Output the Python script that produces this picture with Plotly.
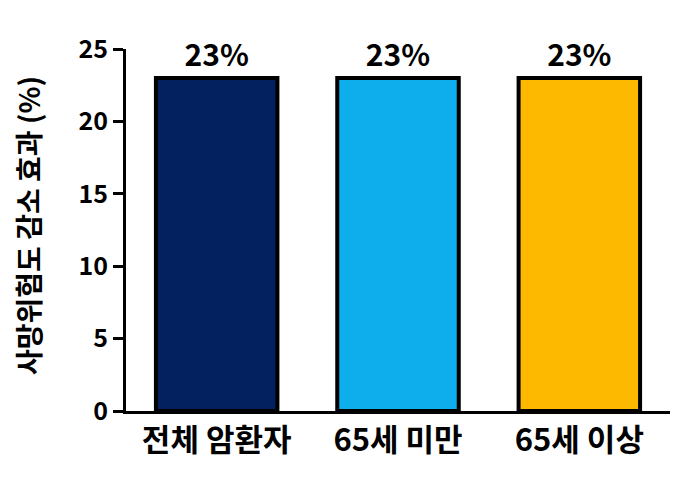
import plotly.graph_objects as go

categories = ["전체 암환자", "65세 미만", "65세 이상"]
values = [23, 23, 23]
labels = ["23%", "23%", "23%"]
colors = ["#03215F", "#0DAEEB", "#FDB900"]
y_ticks = [0, 5, 10, 15, 20, 25]
y_title = "사망위험도 감소 효과 (%)"

FONT = "Noto Sans CJK KR"
W, H = 672, 473
L, R, T, B = 118, 10, 41, 70
PW = W - L - R
PH = H - T - B

fig = go.Figure(go.Bar(
    x=categories, y=values, text=labels,
    textposition="outside", cliponaxis=False,
    textfont=dict(family=FONT, size=30, color="black", weight="bold"),
    marker=dict(color=colors, line=dict(color="black", width=4)),
    width=0.67,
))

fig.update_layout(
    width=W, height=H,
    margin=dict(l=L, r=R, t=T, b=B, autoexpand=False),
    plot_bgcolor="white", paper_bgcolor="white",
    showlegend=False,
    font=dict(family=FONT, color="black"),
    annotations=[dict(
        text=y_title, xref="paper", yref="paper",
        x=(20 - L) / PW, y=(H - B - 218) / PH, xanchor="center", yanchor="middle",
        textangle=-90, showarrow=False,
        font=dict(family=FONT, size=28, color="black", weight="bold"),
    )],
)
fig.update_xaxes(
    range=[-0.5, 2.5], showline=True, linecolor="black", linewidth=3,
    ticks="", tickfont=dict(family=FONT, size=31, color="black", weight="bold"),
    showgrid=False, zeroline=False, automargin=False,
)
fig.update_yaxes(
    range=[0, 25], tickvals=y_ticks, showline=True, linecolor="black", linewidth=3,
    ticks="outside", ticklen=10, tickwidth=3, tickcolor="black",
    tickfont=dict(family=FONT, size=25, color="black", weight="bold"),
    showgrid=False, zeroline=False, automargin=False,
)

fig.write_html("out.html")
